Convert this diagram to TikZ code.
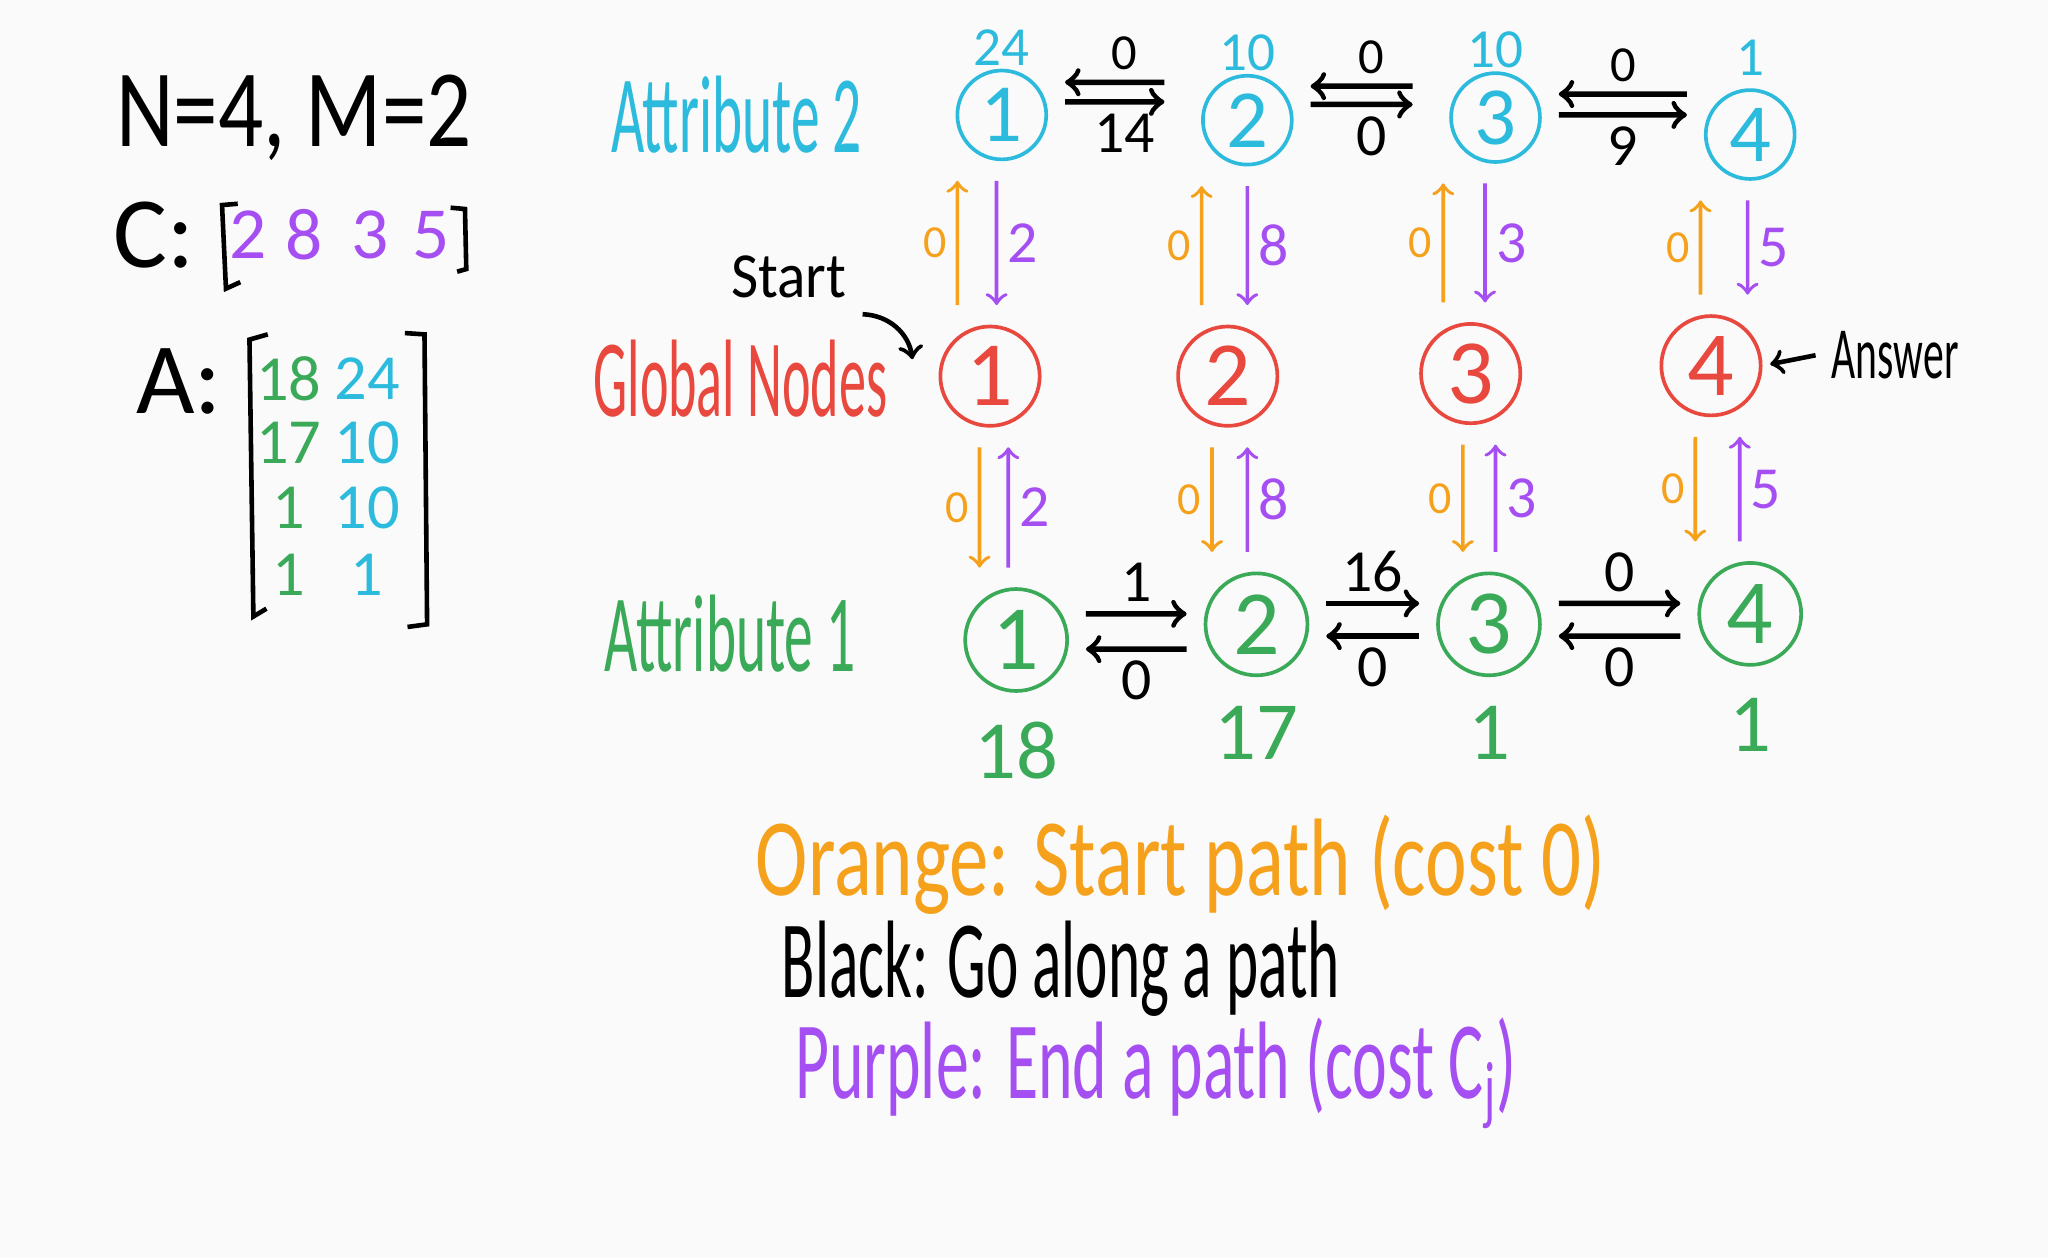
\documentclass[tikz,border=0pt]{standalone}
\usepackage{fontspec}
\setmainfont{Carlito}
\usepackage{graphicx}
\usetikzlibrary{positioning}

\definecolor{paper}{HTML}{FAFAFA}
\definecolor{skyink}{HTML}{2DBBDD}
\definecolor{redink}{HTML}{E8483E}
\definecolor{greenink}{HTML}{3AAA58}
\definecolor{orangeink}{HTML}{F5A11C}
\definecolor{purpleink}{HTML}{A54EF2}

\newcommand{\squeeze}[2]{\resizebox{#1}{\height}{#2}}
\newcommand{\handsize}[1]{\fontsize{#1}{#1}\selectfont}

\tikzset{
  attr2/.style={circle, draw=skyink, text=skyink, line width=0.8pt, minimum size=0.68cm, inner sep=0pt, font=\handsize{18}},
  glob/.style={circle, draw=redink, text=redink, line width=0.8pt, minimum size=0.76cm, inner sep=0pt, font=\handsize{20}},
  attr1/.style={circle, draw=greenink, text=greenink, line width=0.8pt, minimum size=0.78cm, inner sep=0pt, font=\handsize{20}},
  walk/.style={->, line width=1.2pt, shorten >=1.3mm, shorten <=1.3mm},
  startpath/.style={->, orangeink, line width=0.8pt, shorten >=1.5mm, shorten <=1.5mm},
  endpath/.style={->, purpleink, line width=0.8pt, shorten >=1.5mm, shorten <=1.5mm},
  cost/.style={font=\handsize{13}, inner sep=2pt},
  zero/.style={orangeink, font=\handsize{10}, inner sep=2pt},
  price/.style={purpleink, font=\handsize{13}, inner sep=2pt},
  entry/.style={font=\handsize{14}, inner sep=0pt}
}

\begin{document}
\begin{tikzpicture}[x=0.01cm, y=0.01cm]

\fill[paper] (0,0) rectangle (1568,-963);
\useasboundingbox (0,0) rectangle (1568,-963);

% input
\node[font=\handsize{24}] (sizes) at (225,-90) {\squeeze{2.72cm}{N=4, M=2}};
\node[font=\handsize{22}] (clabel) at (118,-180) {C:};
\draw[line width=1pt] (182,-156) -- (170,-157) -- (173,-221) -- (184,-216);
\draw[line width=1pt] (345,-159) -- (356,-160) -- (357,-206) -- (350,-208);
\node[purpleink, font=\handsize{16}] (c1) at (190,-180) {2};
\node[purpleink, font=\handsize{16}] (c2) at (233,-180) {8};
\node[purpleink, font=\handsize{16}] (c3) at (283,-180) {3};
\node[purpleink, font=\handsize{16}] (c4) at (330,-180) {5};

\node[font=\handsize{22}] (alabel) at (137,-292) {A:};
\draw[line width=1pt] (205,-256) -- (191,-260) -- (194,-472) -- (204,-466);
\draw[line width=1pt] (310,-255) -- (325,-256) -- (327,-478) -- (312,-480);
\node[entry, greenink] (a11) at (221,-290) {18};
\node[entry, skyink] (a12) at (281,-290) {24};
\node[entry, greenink] (a21) at (221,-339) {17};
\node[entry, skyink] (a22) at (281,-339) {10};
\node[entry, greenink] (a31) at (221,-389) {1};
\node[entry, skyink] (a32) at (281,-389) {10};
\node[entry, greenink] (a41) at (221,-440) {1};
\node[entry, skyink] (a42) at (281,-440) {1};

% rows
\node[skyink, font=\handsize{24}] (attrtwo) at (564,-88) {\squeeze{1.92cm}{Attribute 2}};
\node[redink, font=\handsize{24}] (globals) at (567,-290) {\squeeze{2.25cm}{Global Nodes}};
\node[greenink, font=\handsize{24}] (attrone) at (559,-485) {\squeeze{1.92cm}{Attribute 1}};

\node[attr2] (t1) at (767,-88) {1};
\node[attr2] (t2) at (955,-92) {2};
\node[attr2] (t3) at (1145,-90) {3};
\node[attr2] (t4) at (1340,-103) {4};
\node[skyink, font=\handsize{12}, above=-1mm of t1] (v1) {24};
\node[skyink, font=\handsize{12}, above=-1mm of t2] (v2) {10};
\node[skyink, font=\handsize{12}, above=-1mm of t3] (v3) {10};
\node[skyink, font=\handsize{12}, above=-0.3mm of t4] (v4) {1};

\node[glob] (g1) at (758,-288) {1};
\node[glob] (g2) at (940,-288) {2};
\node[glob] (g3) at (1126,-286) {3};
\node[glob] (g4) at (1310,-280) {4};

\node[attr1] (b1) at (778,-490) {1};
\node[attr1] (b2) at (962,-478) {2};
\node[attr1] (b3) at (1140,-478) {3};
\node[attr1] (b4) at (1340,-470) {4};
\node[greenink, font=\handsize{18}, below=0.1cm of b1] (w1) {18};
\node[greenink, font=\handsize{18}, below=0.1cm of b2] (w2) {17};
\node[greenink, font=\handsize{18}, below=0.1cm of b3] (w3) {1};
\node[greenink, font=\handsize{18}, below=0.12cm of b4] (w4) {1};

% black: along attribute 2
\draw[walk, shorten <=2.8mm] ([yshift=2.9mm]t2.west) -- ([yshift=2.5mm]t1.east) node[cost, midway, above, font=\handsize{11}] {0};
\draw[walk, shorten >=2.8mm] ([yshift=1mm]t1.east) -- ([yshift=1.4mm]t2.west) node[cost, midway, below] {14};
\draw[walk, shorten <=2.8mm] ([yshift=2.4mm]t3.west) -- ([yshift=2.6mm]t2.east) node[cost, midway, above, font=\handsize{11}] {0};
\draw[walk, shorten >=2.8mm] ([yshift=1.2mm]t2.east) -- ([yshift=1mm]t3.west) node[cost, midway, below] {0};
\draw[walk] ([yshift=3.1mm]t4.west) -- ([yshift=1.8mm]t3.east) node[cost, midway, above, font=\handsize{11}] {0};
\draw[walk] ([yshift=0.2mm]t3.east) -- ([yshift=1.5mm]t4.west) node[cost, midway, below] {9};

% black: along attribute 1
\draw[walk] ([yshift=2mm]b1.east) -- ([yshift=0.8mm]b2.west) node[cost, midway, above] {1};
\draw[walk] ([yshift=-1.9mm]b2.west) -- ([yshift=-0.7mm]b1.east) node[cost, midway, below] {0};
\draw[walk] ([yshift=1.6mm]b2.east) -- ([yshift=1.6mm]b3.west) node[cost, midway, above] {16};
\draw[walk] ([yshift=-0.9mm]b3.west) -- ([yshift=-0.9mm]b2.east) node[cost, midway, below] {0};
\draw[walk] ([yshift=1.6mm]b3.east) -- ([yshift=0.8mm]b4.west) node[cost, midway, above] {0};
\draw[walk] ([yshift=-1.7mm]b4.west) -- ([yshift=-0.9mm]b3.east) node[cost, midway, below] {0};

% orange and purple: global <-> attribute 2
\draw[startpath] ([xshift=-2.5mm]g1.north) -- ([xshift=-3.4mm]t1.south) node[zero, midway, left] {0};
\draw[endpath] ([xshift=-0.4mm]t1.south) -- ([xshift=0.5mm]g1.north) node[price, midway, right] {2};
\draw[startpath] ([xshift=-2mm]g2.north) -- ([xshift=-3.5mm]t2.south) node[zero, midway, left] {0};
\draw[endpath] ([xshift=0mm]t2.south) -- ([xshift=1.5mm]g2.north) node[price, midway, right] {8};
\draw[startpath] ([xshift=-2.1mm]g3.north) -- ([xshift=-4mm]t3.south) node[zero, midway, left] {0};
\draw[endpath] ([xshift=-0.8mm]t3.south) -- ([xshift=1.1mm]g3.north) node[price, midway, right] {3};
\draw[startpath] ([xshift=-0.8mm]g4.north) -- ([xshift=-3.8mm]t4.south) node[zero, midway, left] {0};
\draw[endpath] ([xshift=-0.2mm]t4.south) -- ([xshift=2.8mm]g4.north) node[price, midway, right] {5};

% orange and purple: global <-> attribute 1
\draw[startpath] ([xshift=-0.8mm]g1.south) -- ([xshift=-2.8mm]b1.north) node[zero, midway, left] {0};
\draw[endpath] ([xshift=-0.6mm]b1.north) -- ([xshift=1.4mm]g1.south) node[price, midway, right] {2};
\draw[startpath] ([xshift=-1.2mm]g2.south) -- ([xshift=-3.4mm]b2.north) node[zero, midway, left] {0};
\draw[endpath] ([xshift=-0.7mm]b2.north) -- ([xshift=1.5mm]g2.south) node[price, midway, right] {8};
\draw[startpath] ([xshift=-0.6mm]g3.south) -- ([xshift=-2mm]b3.north) node[zero, midway, left] {0};
\draw[endpath] ([xshift=0.5mm]b3.north) -- ([xshift=1.9mm]g3.south) node[price, midway, right] {3};
\draw[startpath] ([xshift=-1.2mm]g4.south) -- ([xshift=-4.2mm]b4.north) node[zero, midway, left] {0};
\draw[endpath] ([xshift=-0.8mm]b4.north) -- ([xshift=2.2mm]g4.south) node[price, midway, right] {5};

% pointers
\node[font=\handsize{14}] (start) at (604,-212) {\squeeze{0.88cm}{Start}};
\draw[->, line width=1pt] (start.south east) to[bend left=40] ([xshift=-2mm, yshift=1.3mm]g1.west);
\node[font=\handsize{16}] (answer) at (1451,-272) {\squeeze{0.97cm}{Answer}};
\draw[->, line width=1pt, shorten >=0.6mm] (answer.west) -- (g4.east);

% legend
\node[orangeink, font=\handsize{24}, anchor=west, inner sep=0pt] (keyorange) at (578,-662) {\squeeze{6.5cm}{Orange: Start path (cost 0)}};
\node[font=\handsize{24}, anchor=west, inner sep=0pt] (keyblack) at (598,-742) {\squeeze{4.27cm}{Black: Go along a path}};
\node[purpleink, font=\handsize{24}, anchor=west, inner sep=0pt] (keypurple) at (608,-822) {\squeeze{5.52cm}{Purple: End a path (cost C\textsubscript{j})}};

\end{tikzpicture}
\end{document}
